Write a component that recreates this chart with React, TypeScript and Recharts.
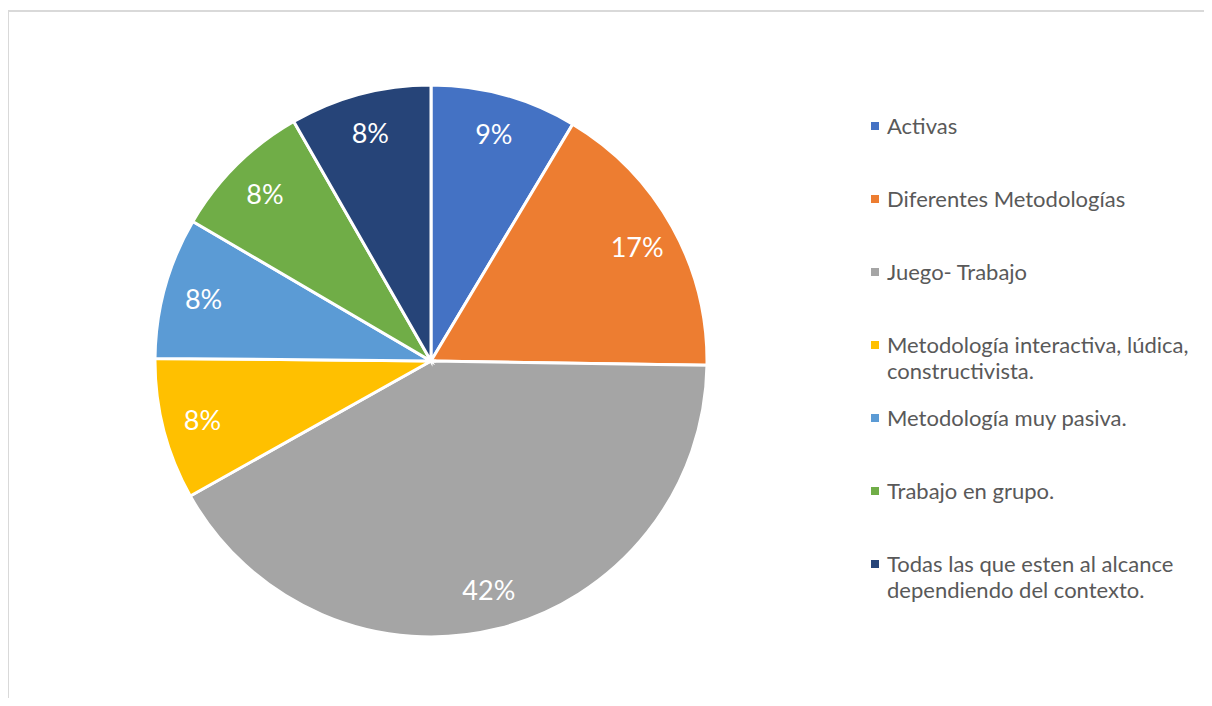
import { PieChart, Pie, Cell, Legend } from 'recharts'

const categories = [
  'Activas',
  'Diferentes Metodologías',
  'Juego- Trabajo',
  'Metodología interactiva, lúdica, constructivista.',
  'Metodología muy pasiva.',
  'Trabajo en grupo.',
  'Todas las que esten al alcance dependiendo del contexto.',
]

const shares = [8.6, 16.7, 41.7, 8.3, 8.3, 8.3, 8.3]

const colors = ['#4472C4', '#ED7D31', '#A5A5A5', '#FFC000', '#5B9BD5', '#70AD47', '#264478']

const chartData = categories.map((name, i) => ({ name, value: shares[i] }))

const FONT = 'Lato, "Open Sans", sans-serif'
const RAD = Math.PI / 180

const renderLabel = (props: any) => {
  const { cx, cy, midAngle, outerRadius, percent } = props
  const r = outerRadius * 0.855
  const x = cx + r * Math.cos(-midAngle * RAD)
  const y = cy + r * Math.sin(-midAngle * RAD)
  return (
    <text
      x={x}
      y={y}
      fill="#ffffff"
      textAnchor="middle"
      dominantBaseline="central"
      style={{ fontFamily: FONT, fontSize: 27 }}
    >
      {`${Math.round(percent * 100)}%`}
    </text>
  )
}

const renderLegend = () => (
  <div style={{ fontFamily: FONT, fontSize: 22, lineHeight: '26px', color: '#595959' }}>
    {categories.map((name, i) => (
      <div key={name} style={{ display: 'flex', height: 73, alignItems: 'flex-start' }}>
        <span
          style={{
            display: 'inline-block',
            width: 8,
            height: 8,
            marginTop: 9,
            marginRight: 8,
            flexShrink: 0,
            background: colors[i],
          }}
        />
        <span style={{ width: 322 }}>{name}</span>
      </div>
    ))}
  </div>
)

export default function App() {
  return (
    <div style={{ position: 'relative', width: 1196, height: 690 }}>
      <div
        style={{
          position: 'absolute',
          left: -1,
          top: 2,
          width: 1205,
          height: 696,
          boxSizing: 'border-box',
          borderTop: '2px solid #d9d9d9',
          borderLeft: '2px solid #d9d9d9',
        }}
      />
      <PieChart
        width={1196}
        height={690}
        margin={{ top: 0, right: 0, bottom: 0, left: 0 }}
        style={{ position: 'absolute', left: 0, top: 0 }}
      >
        <Pie
          data={chartData}
          dataKey="value"
          nameKey="name"
          cx={423}
          cy={353}
          outerRadius={276}
          startAngle={90}
          endAngle={-270}
          stroke="#ffffff"
          strokeWidth={3}
          label={renderLabel}
          labelLine={false}
          isAnimationActive={false}
        >
          {chartData.map((d, i) => (
            <Cell key={d.name} fill={colors[i]} />
          ))}
        </Pie>
        <Legend
          layout="vertical"
          verticalAlign="top"
          align="right"
          content={renderLegend}
          wrapperStyle={{ left: 863, top: 105, width: 345 }}
        />
      </PieChart>
    </div>
  )
}
